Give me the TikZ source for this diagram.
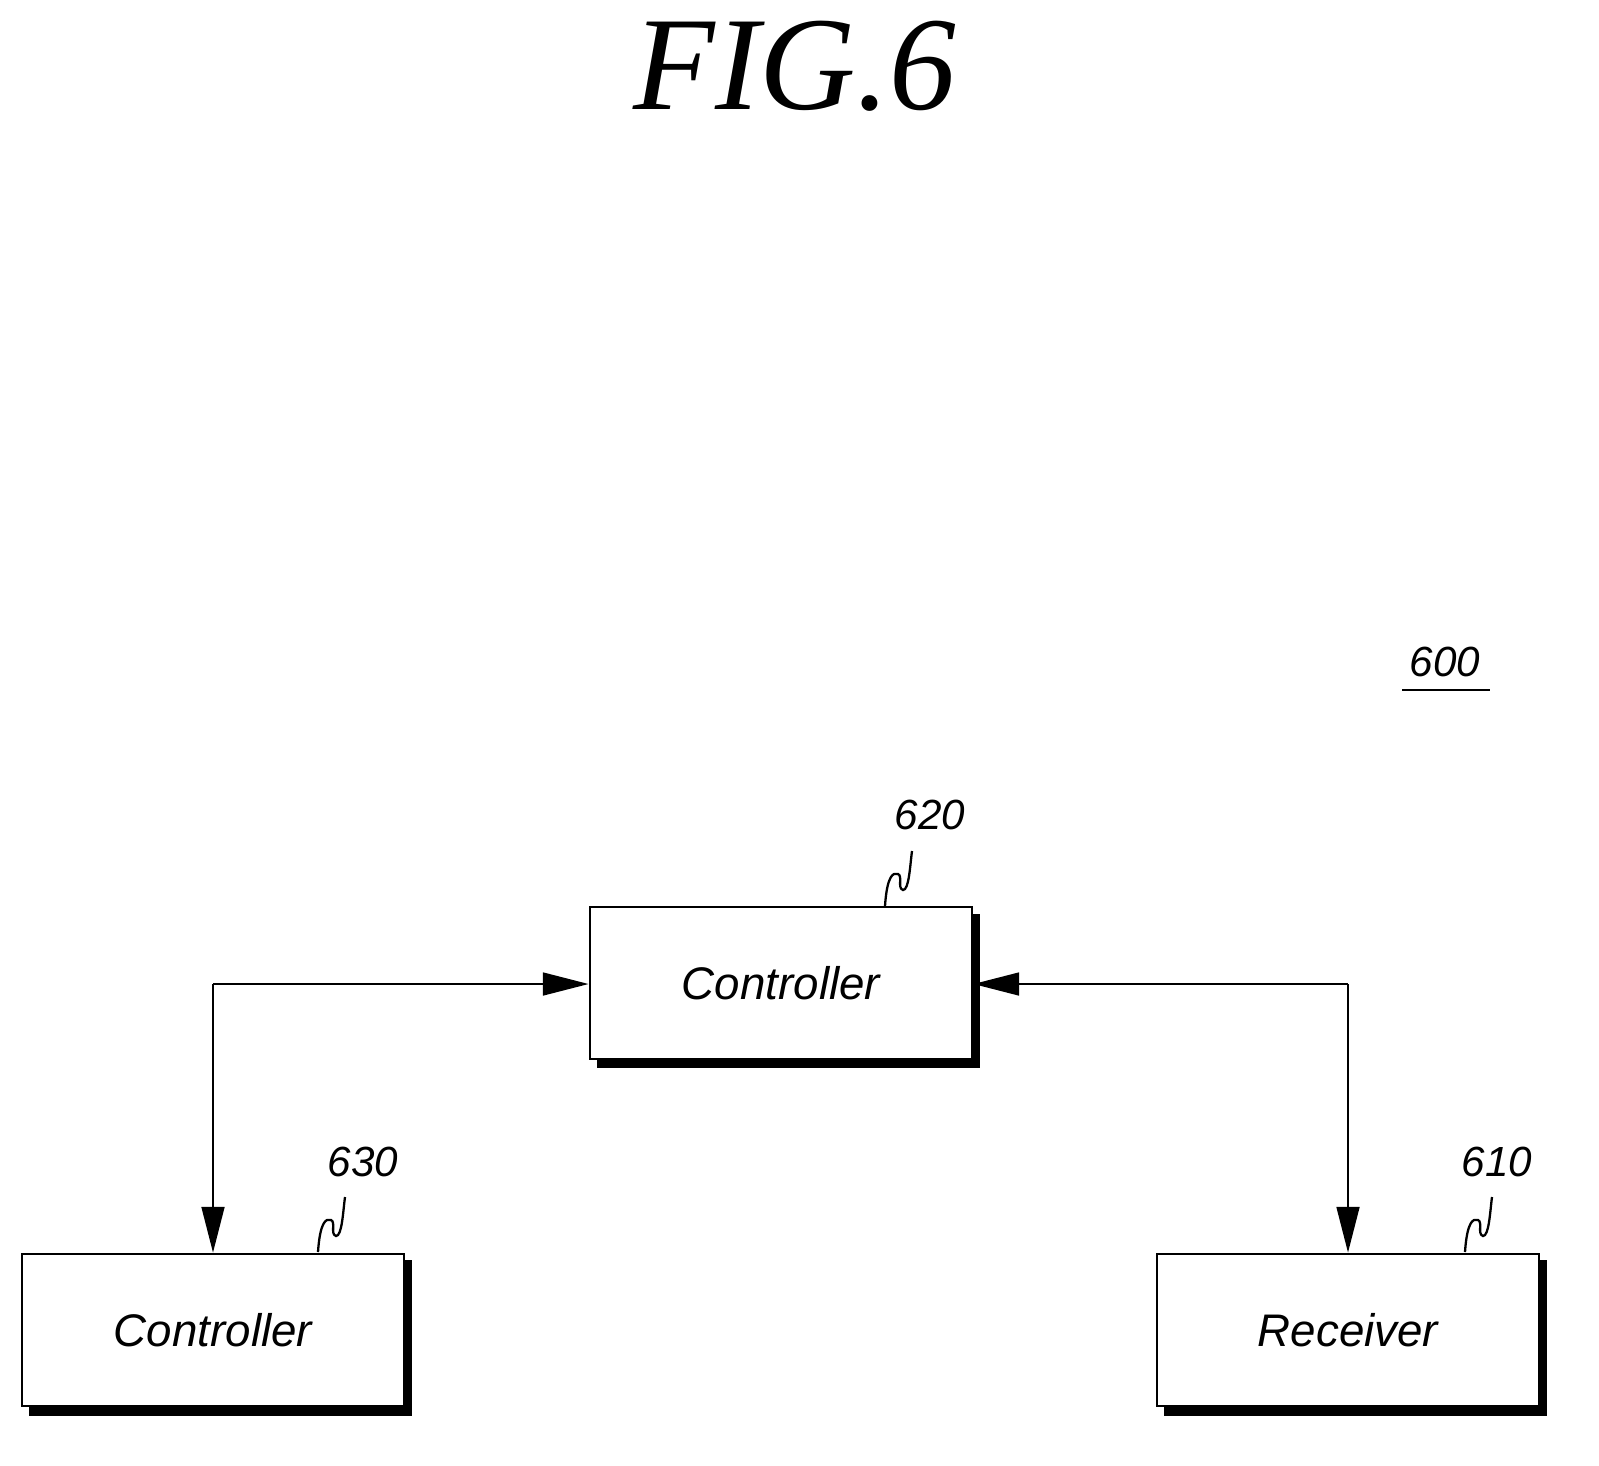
\documentclass[tikz,border=0pt]{standalone}
\usepackage{fontspec}
\setmainfont{Liberation Serif}
\setsansfont{Liberation Sans}
\usetikzlibrary{arrows.meta}
\begin{document}
\begin{tikzpicture}[x=0.02cm,y=-0.02cm,
  box/.style={draw,line width=1.6pt,fill=white,minimum width=382*0.02cm,minimum height=152*0.02cm,
    font=\sffamily\itshape\fontsize{26}{28}\selectfont},
  ref/.style={font=\sffamily\itshape\fontsize{24}{26}\selectfont},
  arr/.style={line width=1.2pt,-{Triangle[length=26pt,width=13pt]}},
  sq/.style={line width=1.3pt}]
\useasboundingbox (0,0) rectangle (1599,1465);
\node[font=\rmfamily\itshape\fontsize{76}{80}\selectfont] (title) at (795,66) {FIG.6};
\node[ref] (n600) at (1445,662) {600};
\draw[line width=1.2pt] (1402,690) -- (1490,690);
% shadows
\fill (597,914) rectangle (980,1068);
\node[box] (c620) at (781,983) {Controller};
\fill (29,1260) rectangle (412,1416);
\node[box] (c630) at (213,1330) {Controller};
\fill (1164,1260) rectangle (1547,1416);
\node[box] (r610) at (1348,1330) {Receiver};
% connectors
\coordinate (lc) at (213,984);
\coordinate (rc) at (1348,984);
\draw[arr] (lc) -- (c620.west |- lc);
\draw[arr] (lc) -- (c630.north -| lc);
\draw[arr] (rc) -- (c620.east |- rc);
\draw[arr] (rc) -- (r610.north -| rc);
% labels
\node[ref] (l620) at (930,815) {620};
\node[ref] (l630) at (363,1162) {630};
\node[ref] (l610) at (1497,1162) {610};
\foreach \x/\y in {885/906, 318/1252, 1465/1252}{
  \draw[sq] (\x,\y) .. controls (\x+2,\y-30) and (\x+8,\y-34) .. (\x+13,\y-32)
    .. controls (\x+18,\y-30) and (\x+12,\y-18) .. (\x+18,\y-16)
    .. controls (\x+24,\y-16) and (\x+25,\y-40) .. (\x+27,\y-55);
}
\end{tikzpicture}
\end{document}
